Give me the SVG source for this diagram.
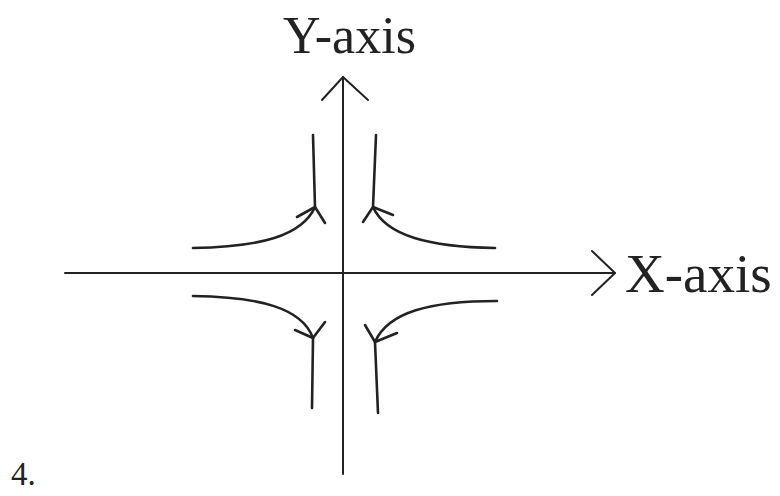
<svg xmlns="http://www.w3.org/2000/svg" width="780" height="496" viewBox="0 0 780 496">
<style>
.ax{fill:none;stroke:#222;stroke-width:2;stroke-linecap:round;stroke-linejoin:round}
.cv{fill:none;stroke:#222;stroke-width:2.6;stroke-linecap:round;stroke-linejoin:round}
.lbl{font-family:"Liberation Serif","Times New Roman",serif;fill:#222}
</style>
<rect width="780" height="496" fill="#fff"/>
<g id="axes" class="connectors">
<line class="ax" x1="343" y1="77" x2="343" y2="474"/>
<polyline class="ax" points="322,100 343,77 368,100"/>
<line class="ax" x1="65" y1="273" x2="615" y2="273"/>
<polyline class="ax" points="592,251 615,273 592,295"/>
</g>
<g id="curves">
<g id="curve-top-left">
<path class="cv" d="M193,248 C260,247 302,236 315,207 L313,135"/>
<polyline class="cv" points="297,217 315,207 325,223"/>
</g>
<g id="curve-top-right">
<path class="cv" d="M495,248 C430,247 386,236 373,207 L376,135"/>
<polyline class="cv" points="363,222 373,207 393,215"/>
</g>
<g id="curve-bottom-left">
<path class="cv" d="M193,296 C260,297 302,308 313,338 L312,408"/>
<polyline class="cv" points="295,330 313,338 325,322"/>
</g>
<g id="curve-bottom-right">
<path class="cv" d="M497,301 C430,301 388,312 375,342 L378,413"/>
<polyline class="cv" points="365,325 375,342 397,333"/>
</g>
</g>
<g id="labels">
<text id="y-label" class="lbl" x="283" y="53" font-size="52">Y-axis</text>
<text id="x-label" class="lbl" x="625" y="292" font-size="55">X-axis</text>
<text id="number" class="lbl" x="11" y="485" font-size="33">4.</text>
</g>
</svg>
